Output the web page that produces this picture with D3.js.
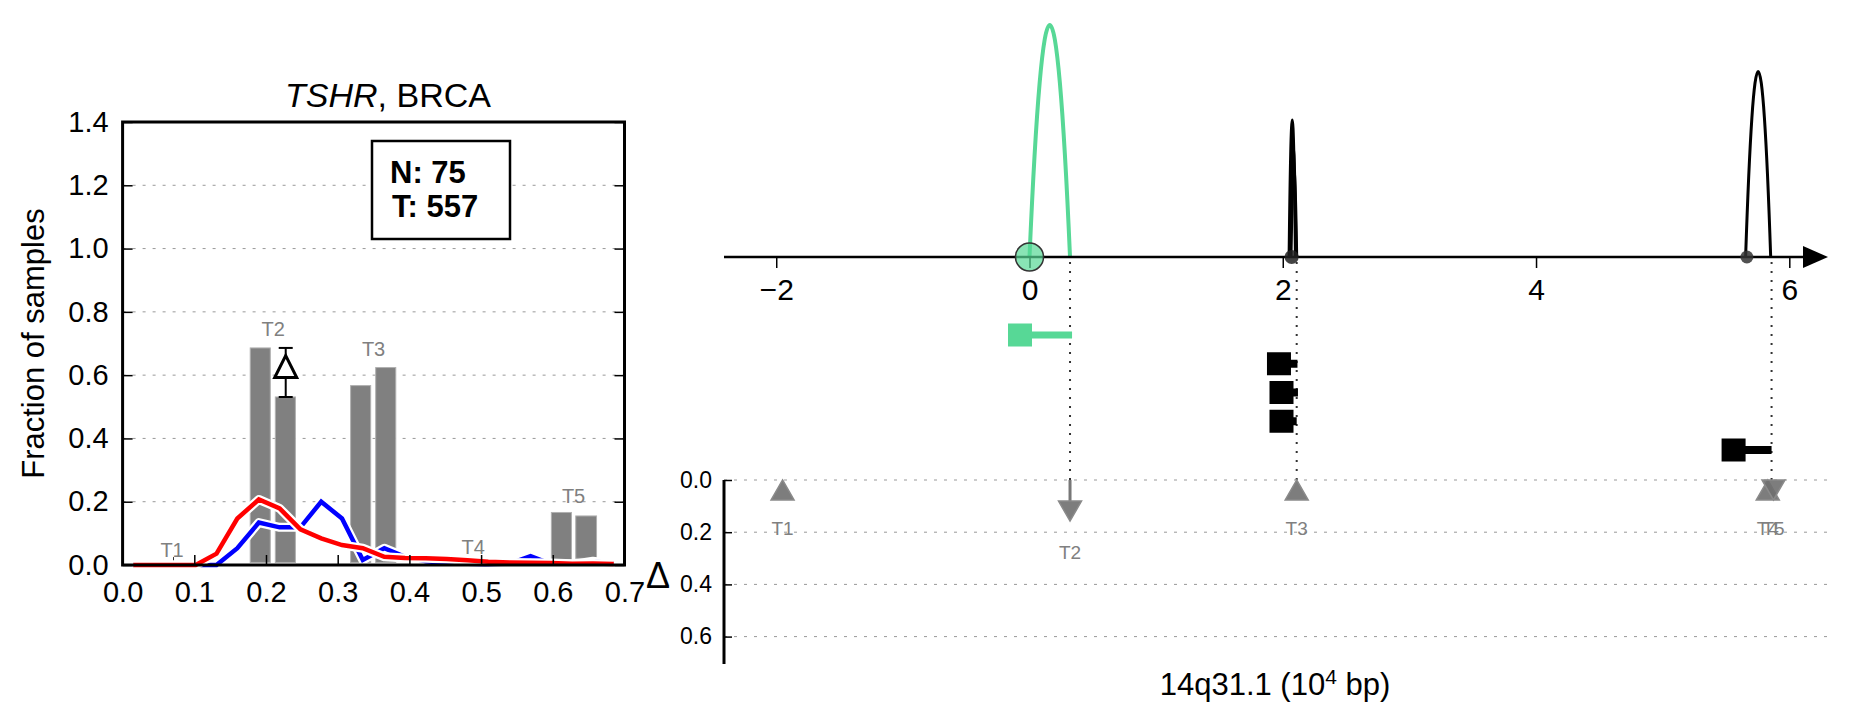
<!DOCTYPE html>
<html><head><meta charset="utf-8">
<script src="https://cdn.jsdelivr.net/npm/d3@7"></script>
<style>body{margin:0;background:#fff}svg{display:block}text{font-family:'Liberation Sans',Arial,sans-serif}</style>
</head><body><svg id="c" width="1855" height="718"></svg>
<script>
// ---------- left panel data ----------
const xTicksL = [0, 0.1, 0.2, 0.3, 0.4, 0.5, 0.6, 0.7];
const yTicksL = [0, 0.2, 0.4, 0.6, 0.8, 1.0, 1.2, 1.4];
const gridL = [0.2, 0.4, 0.6, 0.8, 1.0, 1.2];
const lineX = [0.015,0.044,0.073,0.102,0.131,0.160,0.190,0.219,0.248,0.277,0.306,0.335,0.365,0.394,0.423,0.452,0.481,0.510,0.540,0.569,0.598,0.627,0.656,0.685];
const redVals = [0,0,0,0,0.036,0.147,0.207,0.179,0.113,0.084,0.063,0.053,0.026,0.022,0.021,0.019,0.015,0.010,0.008,0.007,0.006,0.004,0.005,0.003];
const blueVals = [0,0,0,0,0,0.053,0.134,0.119,0.119,0.200,0.147,0.016,0.053,0.026,0.012,0.006,0.004,0.002,0.004,0.028,0.003,0.002,0.012,0.004];
const barX0 = [0.178, 0.213, 0.318, 0.353, 0.598, 0.632];
const barX1 = [0.206, 0.241, 0.346, 0.381, 0.626, 0.661];
const barTop = [0.686, 0.531, 0.567, 0.624, 0.166, 0.155];
const barBase = [0.008, 0.008, 0.008, 0.008, 0.016, 0.021];
const labL = ['T1', 'T2', 'T3', 'T4', 'T5'];
const labLx = [0.069, 0.21, 0.35, 0.489, 0.629];
const labLy = [0.047, 0.748, 0.684, 0.057, 0.218];
const stemX = [0.071, 0.491];
const deltaX = 0.2275, deltaY = 0.627, deltaLo = 0.531, deltaHi = 0.686;
const countN = 75, countT = 557;

// ---------- right panel data ----------
const xTicksR = [-2, 0, 2, 4, 6];
const arcStart = [0.0, 2.05, 2.06, 2.065, 5.655];
const arcEnd = [0.32, 2.10, 2.105, 2.11, 5.853];
const arcH = [1.0, 0.59, 0.47, 0.375, 0.80];
const arcCol = ['#57d896', '#000', '#000', '#000', '#000'];
const dotX = [0, 2.07, 5.665];
const trStart = [-0.075, 1.97, 1.99, 1.99, 5.56];
const trEnd = [0.336, 2.116, 2.12, 2.11, 5.86];
const trRow = [0, 1, 2, 3, 4];
const trCol = ['#57d896', '#000', '#000', '#000', '#000'];
const guideX = [0.32, 2.11, 5.86];
const yTicksD = [0, 0.2, 0.4, 0.6];
const tNames = ['T1', 'T2', 'T3', 'T4', 'T5'];
const tX = [-1.95, 0.32, 2.11, 5.83, 5.875];
const tMark = [0.038, 0.119, 0.038, 0.038, 0.038];
const tDir = ['up', 'down', 'up', 'up', 'down'];
const tLab = [0.186, 0.275, 0.186, 0.186, 0.186];
const shaftEnd = [0, 0.084, 0, 0, 0];

const svg = d3.select('#c');
const FONT = 29;

// ===== LEFT PANEL =====
const xL = d3.scaleLinear([0, 0.7], [122.6, 624.5]);
const yL = d3.scaleLinear([0, 1.4], [565, 122]);
const gL = svg.append('g');

gL.selectAll('line.grid').data(gridL).join('line')
  .attr('x1', xL(0)).attr('x2', xL(0.7)).attr('y1', d => yL(d)).attr('y2', d => yL(d))
  .attr('stroke', '#999').attr('stroke-width', 1).attr('stroke-dasharray', '3,7');

// bars
gL.selectAll('rect.bar').data(barTop).join('rect')
  .attr('x', (d, i) => xL(barX0[i])).attr('width', (d, i) => xL(barX1[i]) - xL(barX0[i]))
  .attr('y', d => yL(d)).attr('height', (d, i) => yL(barBase[i]) - yL(d))
  .attr('fill', '#808080').attr('stroke', '#b0b0b0').attr('stroke-width', 1);

// stems under T1 / T4
gL.selectAll('line.stem').data(stemX).join('line')
  .attr('x1', d => xL(d)).attr('x2', d => xL(d)).attr('y1', yL(0.008)).attr('y2', yL(0.025))
  .attr('stroke', '#333').attr('stroke-width', 1);

// lines with white halo
const ln = (vals) => d3.line().x((d, i) => xL(lineX[i])).y(d => yL(d))(vals);
[[blueVals, '#0000ff'], [redVals, '#ff0000']].forEach(([v, c]) => {
  gL.append('path').attr('d', ln(v)).attr('fill', 'none').attr('stroke', '#fff').attr('stroke-width', 9).attr('stroke-linejoin', 'round');
  gL.append('path').attr('d', ln(v)).attr('fill', 'none').attr('stroke', c).attr('stroke-width', 4.5).attr('stroke-linejoin', 'miter');
});

// T labels
gL.selectAll('text.tl').data(labL).join('text')
  .attr('x', (d, i) => xL(labLx[i])).attr('y', (d, i) => yL(labLy[i]))
  .attr('dy', '0.36em').attr('text-anchor', 'middle').attr('font-size', 20).attr('fill', '#808080').text(d => d);

// delta errorbar + triangle
const dx = xL(deltaX);
gL.append('line').attr('x1', dx).attr('x2', dx).attr('y1', yL(deltaHi)).attr('y2', yL(deltaLo)).attr('stroke', '#000').attr('stroke-width', 2);
[deltaHi, deltaLo].forEach(v => gL.append('line').attr('x1', dx - 7).attr('x2', dx + 7).attr('y1', yL(v)).attr('y2', yL(v)).attr('stroke', '#000').attr('stroke-width', 2));
const dy = yL(deltaY);
gL.append('path').attr('d', `M${dx},${dy - 11}L${dx + 11},${dy + 11}L${dx - 11},${dy + 11}Z`)
  .attr('fill', '#fff').attr('stroke', '#000').attr('stroke-width', 3);

// axes (inside ticks)
const axL = gL.append('g').attr('transform', `translate(${xL(0)},0)`)
  .call(d3.axisLeft(yL).tickValues(yTicksL).tickSize(-10).tickPadding(14).tickFormat(d3.format('.1f')));
const axR = gL.append('g').attr('transform', `translate(${xL(0.7)},0)`)
  .call(d3.axisRight(yL).tickValues(yTicksL).tickSize(-10).tickFormat(''));
const axB = gL.append('g').attr('transform', `translate(0,${yL(0)})`)
  .call(d3.axisBottom(xL).tickValues(xTicksL).tickSize(-10).tickPadding(11).tickFormat(d3.format('.1f')));
[axL, axR, axB].forEach(a => {
  a.select('.domain').remove();
  a.selectAll('.tick line').attr('stroke', '#000').attr('stroke-width', 1.5);
  a.selectAll('.tick text').attr('font-size', FONT).attr('font-family', "'Liberation Sans',Arial,sans-serif").attr('fill', '#000');
});
axB.selectAll('.tick text').attr('dy', '0.9em');

gL.append('rect').attr('x', xL(0)).attr('y', yL(1.4)).attr('width', xL(0.7) - xL(0)).attr('height', yL(0) - yL(1.4))
  .attr('fill', 'none').attr('stroke', '#000').attr('stroke-width', 3);

// title
const title = gL.append('text').attr('x', 388).attr('y', 107).attr('text-anchor', 'middle').attr('font-size', 34);
title.append('tspan').attr('font-style', 'italic').text('TSHR');
title.append('tspan').text(', BRCA');

// y label
gL.append('text').attr('transform', `translate(44,${(yL(0) + yL(1.4)) / 2}) rotate(-90)`).attr('text-anchor', 'middle')
  .attr('font-size', 31).text('Fraction of samples');

// N / T box
gL.append('rect').attr('x', 372).attr('y', 141).attr('width', 138).attr('height', 98).attr('fill', '#fff').attr('stroke', '#000').attr('stroke-width', 2.5);
gL.append('text').attr('x', 390).attr('y', 183).attr('font-size', 31).attr('font-weight', 'bold').text(`N: ${countN}`);
gL.append('text').attr('x', 392).attr('y', 217).attr('font-size', 31).attr('font-weight', 'bold').text(`T: ${countT}`);

// ===== RIGHT PANEL =====
const xR = d3.scaleLinear([0, 6], [1029.5, 1789.3]);
const hA = d3.scaleLinear([0, 1], [257, 25]);
const rowY = d3.scalePoint([0, 1, 2, 3, 4], [335, 450]);
const yD = d3.scaleLinear([0, 0.705], [480, 664]);
const gR = svg.append('g');
const xStart = xR.invert(724);

// lower grid
gR.selectAll('line.gd').data(yTicksD).join('line')
  .attr('x1', xR(xStart)).attr('x2', 1827).attr('y1', d => yD(d)).attr('y2', d => yD(d))
  .attr('stroke', '#999').attr('stroke-width', 1).attr('stroke-dasharray', '3,7');

// guides
gR.selectAll('line.gu').data(guideX).join('line')
  .attr('x1', d => xR(d)).attr('x2', d => xR(d)).attr('y1', hA(0) + 5).attr('y2', yD(0))
  .attr('stroke', '#333').attr('stroke-width', 2).attr('stroke-dasharray', '2,7');

// arcs (quadratic bezier)
gR.selectAll('path.arc').data(arcH).join('path')
  .attr('d', (h, i) => {
    const p = d3.path(); const x0 = xR(arcStart[i]), x1 = xR(arcEnd[i]), b = hA(0);
    p.moveTo(x0, b); p.quadraticCurveTo((x0 + x1) / 2, b - 2 * (b - hA(h)), x1, b); return p.toString();
  })
  .attr('fill', 'none').attr('stroke', (d, i) => arcCol[i]).attr('stroke-width', (d, i) => i === 0 ? 4 : 3);

// main axis
gR.append('line').attr('x1', xR(xStart)).attr('x2', 1805).attr('y1', hA(0)).attr('y2', hA(0)).attr('stroke', '#000').attr('stroke-width', 2.5);
gR.append('path').attr('d', `M1803,${hA(0) - 11}L1828,${hA(0)}L1803,${hA(0) + 11}Z`).attr('fill', '#000');
const axT = gR.append('g').attr('transform', `translate(0,${hA(0)})`)
  .call(d3.axisBottom(xR).tickValues(xTicksR).tickSize(11).tickPadding(11).tickFormat(d => d < 0 ? '\u2212' + Math.abs(d) : d));
axT.select('.domain').remove();
axT.selectAll('.tick line').attr('stroke', '#000').attr('stroke-width', 1.5);
axT.selectAll('.tick text').attr('font-size', 30).attr('font-family', "'Liberation Sans',Arial,sans-serif").attr('fill', '#000');

// junction dots
gR.append('circle').attr('cx', xR(dotX[0])).attr('cy', hA(0)).attr('r', 14).attr('fill', '#57d896').attr('fill-opacity', 0.7).attr('stroke', '#333').attr('stroke-width', 1.5);
gR.append('circle').attr('cx', xR(dotX[1])).attr('cy', hA(0)).attr('r', 7).attr('fill', '#222').attr('fill-opacity', 0.85);
gR.append('circle').attr('cx', xR(dotX[2])).attr('cy', hA(0)).attr('r', 6.5).attr('fill', '#333').attr('fill-opacity', 0.85);

// transcripts
trRow.forEach((r, i) => {
  const y = rowY(r);
  gR.append('line').attr('x1', xR(trStart[i])).attr('x2', xR(trEnd[i])).attr('y1', y).attr('y2', y)
    .attr('stroke', trCol[i]).attr('stroke-width', i === 0 ? 7 : 8);
  gR.append('rect').attr('x', xR(trStart[i]) - 12).attr('y', y - 11.5).attr('width', 24).attr('height', 23).attr('fill', trCol[i]);
});

// lower axis
gR.append('line').attr('x1', 724).attr('x2', 724).attr('y1', yD(0)).attr('y2', yD(0.705)).attr('stroke', '#000').attr('stroke-width', 3);
const axD = gR.append('g').attr('transform', 'translate(724,0)')
  .call(d3.axisLeft(yD).tickValues(yTicksD).tickSize(-8).tickPadding(12).tickFormat(d3.format('.1f')));
axD.select('.domain').remove();
axD.selectAll('.tick line').attr('stroke', '#000').attr('stroke-width', 1.5);
axD.selectAll('.tick text').attr('font-size', 23).attr('font-family', "'Liberation Sans',Arial,sans-serif").attr('fill', '#000');

// T markers
tNames.forEach((t, i) => {
  const x = xR(tX[i]);
  if (shaftEnd[i] > 0) gR.append('line').attr('x1', x).attr('x2', x).attr('y1', yD(0)).attr('y2', yD(shaftEnd[i])).attr('stroke', '#777').attr('stroke-width', 3);
  const cy = yD(tMark[i]);
  const d = tDir[i] === 'up' ? `M${x},${cy - 10}L${x + 11.5},${cy + 10}L${x - 11.5},${cy + 10}Z` : `M${x - 11.5},${cy - 10}L${x + 11.5},${cy - 10}L${x},${cy + 10}Z`;
  gR.append('path').attr('d', d).attr('fill', '#6f6f6f').attr('fill-opacity', 0.9).attr('stroke', '#8a8a8a').attr('stroke-width', 1.5);
  gR.append('text').attr('x', x).attr('y', yD(tLab[i])).attr('dy', '0.36em').attr('text-anchor', 'middle').attr('font-size', 19).attr('fill', '#808080').text(t);
});

// labels
gR.append('text').attr('x', 658).attr('y', 588).attr('text-anchor', 'middle').attr('font-size', 36).text('\u0394');
const xl = gR.append('text').attr('x', 1275).attr('y', 695).attr('text-anchor', 'middle').attr('font-size', 31);
xl.append('tspan').text('14q31.1 (10');
xl.append('tspan').attr('baseline-shift', 'super').attr('font-size', 21).text('4');
xl.append('tspan').text(' bp)');
</script></body></html>
